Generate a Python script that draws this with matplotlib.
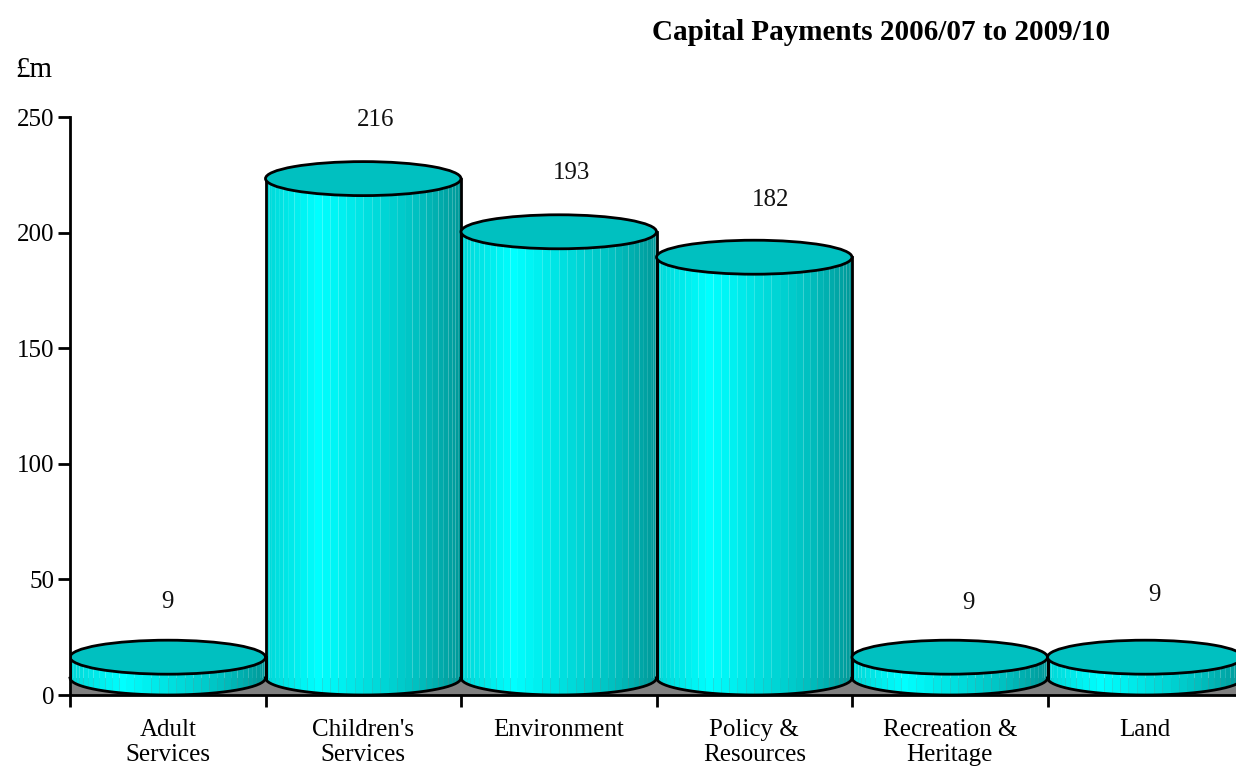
import numpy as np
import matplotlib
matplotlib.use("Agg")
import matplotlib.pyplot as plt
from matplotlib.patches import Ellipse

categories = ["Adult\nServices", "Children's\nServices", "Environment",
              "Policy &\nResources", "Recreation &\nHeritage", "Land"]
values = [9, 216, 193, 182, 9, 9]
y_ticks = [0, 50, 100, 150, 200, 250]

# where the value labels sit, relative to the cylinder top (px)
label_dx = [0, 12, 13, 16, 19, 9]
label_dy = [55, 59, 59, 57, 54, 62]

plt.rcParams["font.family"] = "Liberation Serif"

W, H = 1236, 776
fig = plt.figure(figsize=(W / 100, H / 100), dpi=100)
ax = fig.add_axes([70 / W, 81 / H, 1173 / W, 578 / H])
ax.set_xlim(0, 6)
ax.set_ylim(0, 250)

e = 17 * 250 / 578  # half height of the ellipse in data units
edge = 2.0
stops_t = [0, 0.27, 0.5, 0.75, 0.93, 1]
stops_c = [214, 255, 226, 196, 165, 150]

ax.fill_between([0, 6], 0, e, color="#808080", lw=0, zorder=1)

for i, v in enumerate(values):
    cx = i + 0.5
    theta = np.linspace(0, np.pi, 37)
    xs = cx - 0.5 * np.cos(theta)
    ys = e - e * np.sin(theta)
    for j in range(len(theta) - 1):
        t = (xs[j] + xs[j + 1]) / 2 - i
        g = np.interp(t, stops_t, stops_c) / 255
        ax.fill_between(xs[j:j + 2], ys[j:j + 2], v + e, color=(0, g, g), lw=0, zorder=2 + i * 0.1)
    ax.plot(xs, ys, color="k", lw=edge, zorder=3 + i * 0.1, clip_on=False)
    ax.plot([i, i], [e, v + e], color="k", lw=edge, zorder=3 + i * 0.1)
    ax.plot([i + 1, i + 1], [e, v + e], color="k", lw=edge, zorder=3 + i * 0.1)
    ax.add_patch(Ellipse((cx, v + e), 1, 2 * e, facecolor="#00c0c0", edgecolor="k", lw=edge, zorder=3.5 + i * 0.1))
    ax.annotate(str(v), (cx, v + 2 * e), xytext=(label_dx[i] * 0.72, label_dy[i] * 0.72 - 17 * 0.72),
                textcoords="offset points", ha="center", va="center", fontsize=18, color="#111111")

for s in ["top", "right"]:
    ax.spines[s].set_visible(False)
for s in ["left", "bottom"]:
    ax.spines[s].set_linewidth(edge)
    ax.spines[s].set_zorder(6)

ax.set_yticks(y_ticks)
ax.tick_params(axis="y", length=8.5, width=edge, labelsize=18, pad=3)
ax.set_xticks(range(7))
ax.set_xticklabels([])
ax.tick_params(axis="x", which="major", length=8.5, width=edge)
ax.set_xticks(np.arange(6) + 0.5, minor=True)
ax.set_xticklabels(categories, minor=True, fontsize=18, linespacing=1.2)
ax.tick_params(axis="x", which="minor", length=0, pad=17)

fig.text(881 / W, 1 - 32 / H, "Capital Payments 2006/07 to 2009/10", ha="center", va="center",
         fontsize=21, fontweight="bold")
fig.text(15 / W, 1 - 70 / H, "£m", ha="left", va="center", fontsize=21)

fig.savefig("out.png", dpi=100)
